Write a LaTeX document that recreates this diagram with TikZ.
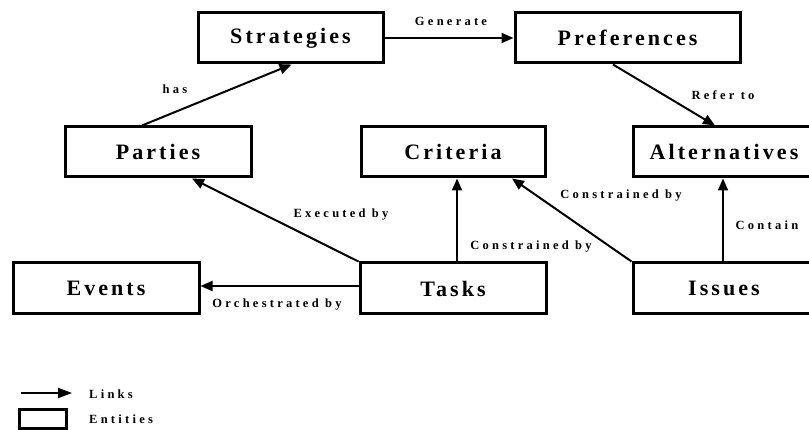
\documentclass[tikz,border=0pt]{standalone}
\usepackage{fontspec}
\setmainfont{Liberation Serif}
\usetikzlibrary{arrows.meta}
\begin{document}
\begin{tikzpicture}[x=1pt,y=-1pt,
  entity/.style={draw,line width=3pt,minimum height=50pt,inner sep=0pt,
    font=\bfseries\fontsize{22}{24}\selectfont\addfontfeatures{LetterSpace=14}},
  link/.style={line width=2pt,-{Triangle[length=12pt,width=10pt]}},
  lbl/.style={inner sep=0pt,font=\bfseries\fontsize{12.5}{14}\selectfont\addfontfeatures{LetterSpace=26}}]
\useasboundingbox (0,0) rectangle (809,430);
% entities
\node[entity,minimum width=185pt] (strategies) at (290.5,38) {Strategies};
\node[entity,minimum width=225pt] (preferences) at (627.5,38) {Preferences};
\node[entity,minimum width=186pt] (parties) at (158,152) {Parties};
\node[entity,minimum width=184pt] (criteria) at (453,152) {Criteria};
\node[entity,minimum width=182pt] (alternatives) at (724,152) {Alternatives};
\node[entity,minimum width=186pt,minimum height=51pt] (events) at (106,288.5) {Events};
\node[entity,minimum width=186pt,minimum height=51pt] (tasks) at (453,288.5) {Tasks};
\node[entity,minimum width=182pt,minimum height=51pt] (issues) at (724,288.5) {Issues};
% links
\draw[link] ([xshift=-16pt]parties.north) -- ([xshift=1pt]strategies.south);
\draw[link] (strategies.east) -- (preferences.west);
\draw[link] ([xshift=-14.5pt]preferences.south) -- ([xshift=-9pt]alternatives.north);
\draw[link] (tasks.north west) -- ([xshift=34pt]parties.south);
\draw[link] ([yshift=2.5pt]tasks.west) -- ([yshift=2.5pt]events.east);
\draw[link] ([xshift=4pt]tasks.north) -- ([xshift=4pt]criteria.south);
\draw[link] (issues.north west) -- ([xshift=59pt]criteria.south);
\draw[link] ([xshift=-1pt]issues.north) -- ([xshift=-1pt]alternatives.south);
% labels
\node[lbl] (lhas) at (175,89) {has};
\node[lbl] (lgen) at (451,21) {Generate};
\node[lbl] (lref) at (723,95) {Refer to};
\node[lbl] (lexe) at (341,215) {Executed by};
\node[lbl] (lorc) at (277,305) {Orchestrated by};
\node[lbl] (lcon1) at (531,247) {Constrained by};
\node[lbl] (lcon2) at (621,196) {Constrained by};
\node[lbl] (lcont) at (767,225) {Contain};
% legend
\coordinate (la) at (21,393);
\coordinate (lb) at (72,393);
\draw[link,-{Triangle[length=14pt,width=10pt]}] (la) -- (lb);
\node[lbl,anchor=west] (llinks) at (89,394) {Links};
\node[draw,line width=3pt,minimum width=47pt,minimum height=19pt,inner sep=0pt] (lrect) at (42.5,418.5) {};
\node[lbl,anchor=west] (lent) at (89,419.5) {Entities};
\end{tikzpicture}
\end{document}
